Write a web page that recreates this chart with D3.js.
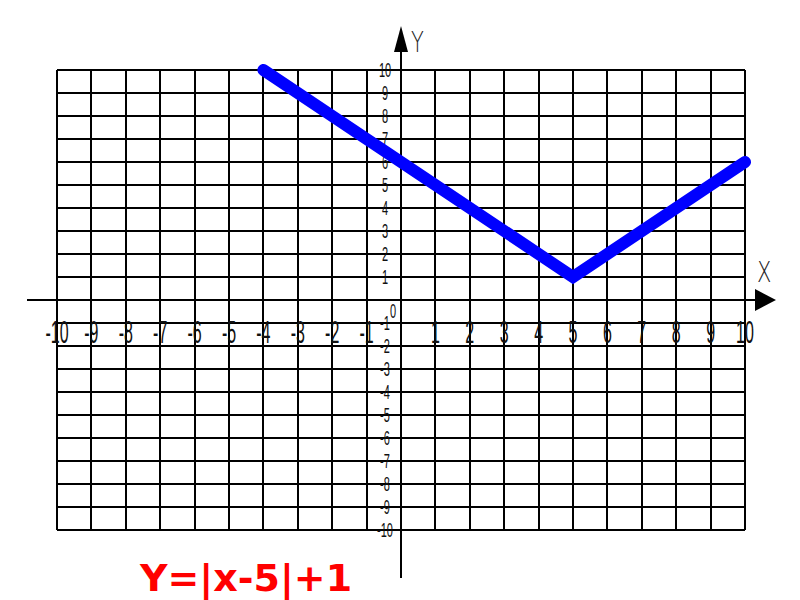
<!DOCTYPE html>
<html>
<head>
<meta charset="utf-8">
<script src="https://cdn.jsdelivr.net/npm/d3@7"></script>
<style>
  html, body { margin: 0; padding: 0; background: #fff; }
  svg { display: block; }
</style>
</head>
<body>
<svg id="chart" width="800" height="600"></svg>
<script>
// ---- data ----
const gridValues = d3.range(-10, 11);            // grid lines at each integer
const xTickLabels = [-10,-9,-8,-7,-6,-5,-4,-3,-2,-1,1,2,3,4,5,6,7,8,9,10];
const yTickLabels = [10,9,8,7,6,5,4,3,2,1,-1,-2,-3,-4,-5,-6,-7,-8,-9,-10];
const lineX = [-4, 5, 10];
const lineY = [10, 1, 6];
const title = "Y=|x-5|+1";

// ---- scales ----
const svg = d3.select("#chart");
const x = d3.scaleLinear().domain([-10, 10]).range([57, 745]);
const y = d3.scaleLinear().domain([-10, 10]).range([530, 70]);

// grid
const grid = svg.append("g").attr("stroke", "#000").attr("stroke-width", 2).attr("shape-rendering", "crispEdges");
grid.selectAll("line.v").data(gridValues).enter().append("line")
  .attr("x1", d => x(d)).attr("x2", d => x(d))
  .attr("y1", y(-10)).attr("y2", y(10));
grid.selectAll("line.h").data(gridValues).enter().append("line")
  .attr("y1", d => y(d)).attr("y2", d => y(d))
  .attr("x1", x(-10)).attr("x2", x(10));

// axes
svg.append("line").attr("x1", 27).attr("x2", 760).attr("y1", y(0)).attr("y2", y(0))
  .attr("stroke", "#000").attr("stroke-width", 2);
svg.append("line").attr("x1", x(0)).attr("x2", x(0)).attr("y1", 48).attr("y2", 578)
  .attr("stroke", "#000").attr("stroke-width", 2);
// arrows
svg.append("path").attr("d", `M${x(0)},26 L${x(0)-7},52 L${x(0)+7},52 Z`).attr("fill", "#000");
svg.append("path").attr("d", `M776,${y(0)} L755,${y(0)-11} L755,${y(0)+11} Z`).attr("fill", "#000");
// axis names
svg.append("text").text("Y")
  .attr("font-family", "DejaVu Sans").attr("font-weight", "200").attr("font-size", 28).attr("fill", "#222")
  .attr("transform", "translate(411,52) scale(0.75,1)");
svg.append("text").text("X")
  .attr("font-family", "DejaVu Sans").attr("font-weight", "200").attr("font-size", 28).attr("fill", "#222")
  .attr("transform", "translate(757,282) scale(0.75,1)");

// x tick labels
const xl = svg.append("g").attr("font-family", "Liberation Sans Narrow, Liberation Sans, sans-serif")
  .attr("font-size", 32).attr("fill", "#111").attr("text-anchor", "middle");
xl.selectAll("text").data(xTickLabels).enter().append("text")
  .attr("transform", d => `translate(${x(d)},343) scale(0.5,1)`)
  .text(d => String(d));
// y tick labels
const yl = svg.append("g").attr("font-family", "Liberation Sans Narrow, Liberation Sans, sans-serif")
  .attr("font-size", 20).attr("fill", "#111").attr("text-anchor", "middle");
yl.selectAll("text").data(yTickLabels).enter().append("text")
  .attr("transform", d => `translate(385,${y(d) + 7}) scale(0.55,1)`)
  .text(d => String(d));
svg.append("text").attr("transform", `translate(393,${y(0) + 18}) scale(0.55,1)`)
  .attr("font-family", "Liberation Sans Narrow, Liberation Sans, sans-serif")
  .attr("font-size", 20).attr("fill", "#111").attr("text-anchor", "middle").text("0");

// function line
const line = d3.line().x(d => x(d[0])).y(d => y(d[1]));
svg.append("path").datum(lineX.map((v, i) => [v, lineY[i]]))
  .attr("d", line).attr("fill", "none").attr("stroke", "#0000ff")
  .attr("stroke-width", 12).attr("stroke-linecap", "round").attr("stroke-linejoin", "miter");

// title
svg.append("text").attr("x", 140).attr("y", 591).text(title)
  .attr("font-family", "DejaVu Sans").attr("font-weight", "bold").attr("font-size", 38)
  .attr("fill", "#ff0000");
</script>
</body>
</html>
